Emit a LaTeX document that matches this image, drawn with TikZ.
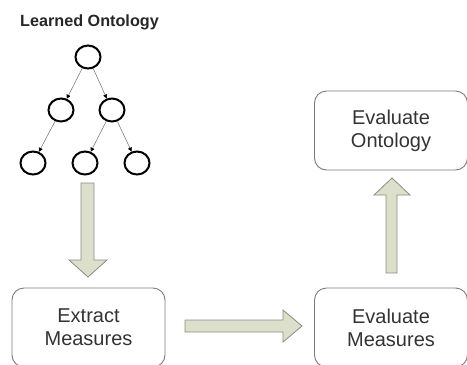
\documentclass[tikz,border=0pt]{standalone}
\usepackage{fontspec}
\setmainfont{Liberation Sans}
\usetikzlibrary{arrows.meta,shapes.geometric}
\definecolor{boxline}{HTML}{7A7A7A}
\definecolor{arrfill}{HTML}{DCE0CB}
\definecolor{arrline}{HTML}{8A8C84}
\definecolor{txt}{HTML}{333333}
\tikzset{
  procbox/.style={draw=boxline, line width=0.9pt, rounded corners=12pt, minimum width=153pt, minimum height=79pt, align=center, text=txt, font=\fontsize{20}{23}\selectfont, inner sep=0pt},
  treenode/.style={draw=black, line width=2pt, ellipse, minimum width=25pt, minimum height=23pt, inner sep=0pt},
  treeedge/.style={draw=gray, line width=0.6pt, -{Triangle[length=4pt,width=4pt,color=black]}},
  blockarrow/.style={fill=arrfill, draw=arrline, line width=0.8pt, line join=miter}
}
\begin{document}
\begin{tikzpicture}[x=1pt,y=-1pt]
\useasboundingbox (0,0) rectangle (467,365);
\node[anchor=west, font=\fontsize{16.2}{19}\selectfont\bfseries, text=black!85, inner sep=0pt] (title) at (20,22) {Learned Ontology};
% tree
\node[treenode] (r) at (88,57) {};
\node[treenode] (a) at (61,110) {};
\node[treenode] (b) at (112,110) {};
\node[treenode] (c) at (33,163) {};
\node[treenode] (d) at (85,163) {};
\node[treenode] (e) at (137,163) {};
\draw[treeedge] (r) -- (a);
\draw[treeedge] (r) -- (b);
\draw[treeedge] (a) -- (c);
\draw[treeedge] (b) -- (d);
\draw[treeedge] (b) -- (e);
% boxes
\node[procbox] (extract) at (88.5,327.5) {Extract\\Measures};
\node[procbox] (evalm) at (391,327.5) {Evaluate\\Measures};
\node[procbox] (evalo) at (391,130.5) {Evaluate\\Ontology};
% block arrows
\draw[blockarrow] (81,183) -- (94,183) -- (94,260) -- (107,260) -- (88,277) -- (69,260) -- (81,260) -- cycle;
\draw[blockarrow] (185,320) -- (283,320) -- (283,310) -- (302,326) -- (283,342) -- (283,332) -- (185,332) -- cycle;
\draw[blockarrow] (386,273) -- (386,195) -- (374,195) -- (392,178) -- (410,195) -- (397,195) -- (397,273) -- cycle;
\end{tikzpicture}
\end{document}
